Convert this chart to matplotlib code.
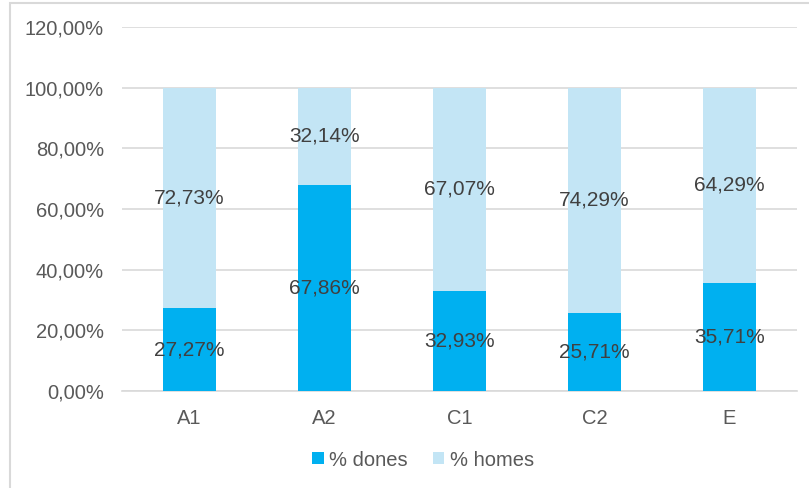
import numpy as np
from matplotlib import pyplot as plt
from matplotlib.patches import Rectangle

categories = ['A1', 'A2', 'C1', 'C2', 'E']
dones = [27.27, 67.86, 32.93, 25.71, 35.71]
homes = [72.73, 32.14, 67.07, 74.29, 64.29]

plt.rcParams['font.family'] = ['Liberation Sans', 'DejaVu Sans']
text_color = '#595959'

fig = plt.figure(figsize=(8.09, 4.88), dpi=100)
ax = fig.add_axes([122 / 809, 0.199, 675 / 809, 0.746])

x = np.arange(len(categories))
width = 0.39
ax.bar(x, dones, width, color='#00B0F0', label='% dones', zorder=3)
ax.bar(x, homes, width, bottom=dones, color='#C3E5F5', label='% homes', zorder=3)

for i in range(len(categories)):
    ax.text(x[i], dones[i] / 2, f'{dones[i]:.2f}%'.replace('.', ','),
            ha='center', va='center', fontsize=15, color='#404040', zorder=4)
    ax.text(x[i], dones[i] + homes[i] / 2, f'{homes[i]:.2f}%'.replace('.', ','),
            ha='center', va='center', fontsize=15, color='#404040', zorder=4)

ax.set_xlim(-0.5, len(categories) - 0.5)
ax.set_ylim(0, 120)
ticks = np.arange(0, 121, 20)
ax.set_yticks(ticks)
ax.set_yticklabels([f'{t:.2f}%'.replace('.', ',') for t in ticks])
ax.set_xticks(x)
ax.set_xticklabels(categories)
ax.tick_params(axis='both', length=0, labelsize=14.5, colors=text_color)
ax.tick_params(axis='y', pad=13)
ax.tick_params(axis='x', pad=13)
ax.grid(axis='y', color='#D9D9D9', linewidth=1.2, zorder=0)
for s in ['top', 'right', 'left']:
    ax.spines[s].set_visible(False)
ax.spines['bottom'].set_color('#D9D9D9')
ax.spines['bottom'].set_linewidth(1.2)

leg = ax.legend(loc='center', bbox_to_anchor=(0.446, -0.19), ncol=2, frameon=False,
                fontsize=14.5, handlelength=0.55, handleheight=0.55, handletextpad=0.25,
                columnspacing=1.3)
for t in leg.get_texts():
    t.set_color(text_color)

fig.patches.append(Rectangle((10 / 809, -0.1), 1.2, 1 - 3 / 488 + 0.1,
                             transform=fig.transFigure, fill=False,
                             edgecolor='#D9D9D9', linewidth=1.5))

plt.savefig('out.png', dpi=100)
